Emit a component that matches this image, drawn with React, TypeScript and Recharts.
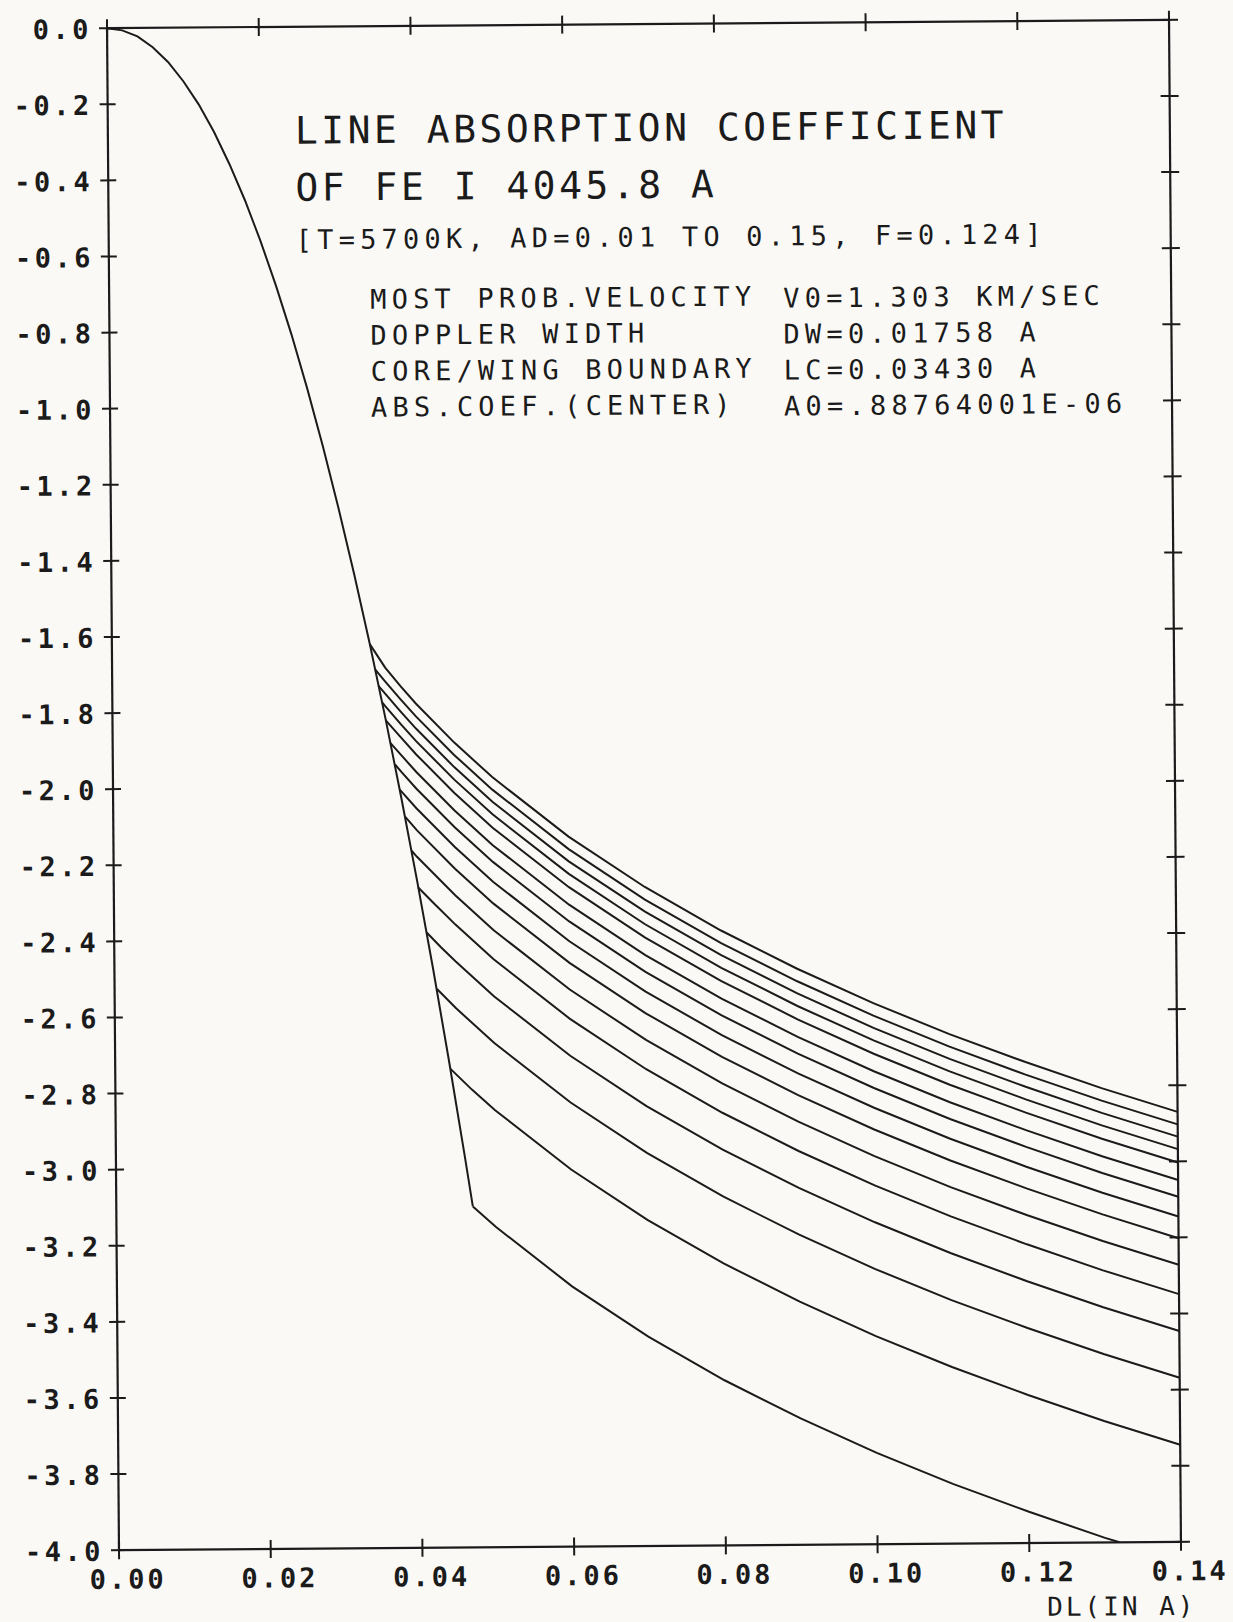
import React from 'react';
import { LineChart, Line, XAxis, YAxis } from 'recharts';

// ---- axis ticks ----
const X_TICKS = [0, 0.02, 0.04, 0.06, 0.08, 0.1, 0.12, 0.14];
const Y_TICKS = [0, -0.2, -0.4, -0.6, -0.8, -1.0, -1.2, -1.4, -1.6, -1.8, -2.0, -2.2, -2.4, -2.6, -2.8, -3.0, -3.2, -3.4, -3.6, -3.8, -4.0];
const X_LABEL = 'DL(IN A)';

// ---- texts ----
const TITLE_LINES = ['LINE ABSORPTION COEFFICIENT', 'OF FE I 4045.8 A'];
const PARAM_LINE = '[T=5700K, AD=0.01 TO 0.15, F=0.124]';
const INFO_NAMES = ['MOST PROB.VELOCITY', 'DOPPLER WIDTH', 'CORE/WING BOUNDARY', 'ABS.COEF.(CENTER)'];
const INFO_VALUES = ['V0=1.303 KM/SEC', 'DW=0.01758 A', 'LC=0.03430 A', 'A0=.88764001E-06'];

// ---- Doppler core (shared by all curves) ----
const coreX = [0, 0.002, 0.004, 0.006, 0.008, 0.01, 0.012, 0.014, 0.016, 0.018, 0.02, 0.022, 0.024, 0.026, 0.028, 0.03, 0.032, 0.034, 0.036, 0.038, 0.04, 0.042, 0.044, 0.046, 0.047];
const coreY = [0, -0.006, -0.022, -0.051, -0.09, -0.141, -0.202, -0.275, -0.36, -0.455, -0.562, -0.68, -0.809, -0.95, -1.102, -1.265, -1.439, -1.624, -1.821, -2.029, -2.248, -2.478, -2.72, -2.973, -3.104];

// ---- damping wings, AD = 0.15 ... 0.01 : [DL, log coefficient] ----
const wingAD15: [number, number][] = [[0.034, -1.624], [0.036, -1.686], [0.038, -1.735], [0.04, -1.781], [0.045, -1.884], [0.05, -1.976], [0.06, -2.134], [0.07, -2.268], [0.08, -2.384], [0.09, -2.486], [0.1, -2.578], [0.11, -2.661], [0.12, -2.736], [0.13, -2.806], [0.14, -2.87]];
const wingAD14: [number, number][] = [[0.0347, -1.691], [0.036, -1.723], [0.038, -1.77], [0.04, -1.815], [0.045, -1.917], [0.05, -2.009], [0.06, -2.167], [0.07, -2.301], [0.08, -2.417], [0.09, -2.519], [0.1, -2.611], [0.11, -2.694], [0.12, -2.769], [0.13, -2.839], [0.14, -2.903]];
const wingAD13: [number, number][] = [[0.0351, -1.734], [0.036, -1.755], [0.038, -1.802], [0.04, -1.847], [0.045, -1.949], [0.05, -2.041], [0.06, -2.199], [0.07, -2.333], [0.08, -2.449], [0.09, -2.551], [0.1, -2.643], [0.11, -2.726], [0.12, -2.801], [0.13, -2.871], [0.14, -2.935]];
const wingAD12: [number, number][] = [[0.0356, -1.778], [0.036, -1.788], [0.038, -1.835], [0.04, -1.88], [0.045, -1.982], [0.05, -2.074], [0.06, -2.232], [0.07, -2.366], [0.08, -2.482], [0.09, -2.584], [0.1, -2.676], [0.11, -2.759], [0.12, -2.834], [0.13, -2.904], [0.14, -2.968]];
const wingAD11: [number, number][] = [[0.036, -1.824], [0.038, -1.87], [0.04, -1.915], [0.045, -2.017], [0.05, -2.109], [0.06, -2.267], [0.07, -2.401], [0.08, -2.517], [0.09, -2.619], [0.1, -2.711], [0.11, -2.794], [0.12, -2.869], [0.13, -2.939], [0.14, -3.003]];
const wingAD10: [number, number][] = [[0.0366, -1.884], [0.038, -1.916], [0.04, -1.961], [0.045, -2.063], [0.05, -2.155], [0.06, -2.313], [0.07, -2.447], [0.08, -2.563], [0.09, -2.665], [0.1, -2.757], [0.11, -2.84], [0.12, -2.915], [0.13, -2.985], [0.14, -3.049]];
const wingAD09: [number, number][] = [[0.0372, -1.941], [0.038, -1.96], [0.04, -2.005], [0.045, -2.107], [0.05, -2.199], [0.06, -2.357], [0.07, -2.491], [0.08, -2.607], [0.09, -2.709], [0.1, -2.801], [0.11, -2.884], [0.12, -2.959], [0.13, -3.029], [0.14, -3.093]];
const wingAD08: [number, number][] = [[0.0378, -2.007], [0.04, -2.057], [0.045, -2.159], [0.05, -2.251], [0.06, -2.409], [0.07, -2.543], [0.08, -2.659], [0.09, -2.761], [0.1, -2.853], [0.11, -2.936], [0.12, -3.011], [0.13, -3.081], [0.14, -3.145]];
const wingAD07: [number, number][] = [[0.0385, -2.079], [0.04, -2.114], [0.045, -2.216], [0.05, -2.308], [0.06, -2.466], [0.07, -2.6], [0.08, -2.716], [0.09, -2.818], [0.1, -2.91], [0.11, -2.993], [0.12, -3.068], [0.13, -3.138], [0.14, -3.202]];
const wingAD06: [number, number][] = [[0.0393, -2.168], [0.04, -2.184], [0.045, -2.286], [0.05, -2.378], [0.06, -2.536], [0.07, -2.67], [0.08, -2.786], [0.09, -2.888], [0.1, -2.98], [0.11, -3.063], [0.12, -3.138], [0.13, -3.208], [0.14, -3.272]];
const wingAD05: [number, number][] = [[0.0401, -2.264], [0.042, -2.303], [0.045, -2.363], [0.05, -2.455], [0.06, -2.613], [0.07, -2.747], [0.08, -2.863], [0.09, -2.965], [0.1, -3.057], [0.11, -3.14], [0.12, -3.215], [0.13, -3.285], [0.14, -3.349]];
const wingAD04: [number, number][] = [[0.0412, -2.383], [0.043, -2.421], [0.045, -2.46], [0.05, -2.552], [0.06, -2.71], [0.07, -2.844], [0.08, -2.96], [0.09, -3.062], [0.1, -3.154], [0.11, -3.237], [0.12, -3.312], [0.13, -3.382], [0.14, -3.446]];
const wingAD03: [number, number][] = [[0.0425, -2.532], [0.045, -2.583], [0.05, -2.675], [0.06, -2.833], [0.07, -2.967], [0.08, -3.083], [0.09, -3.185], [0.1, -3.277], [0.11, -3.36], [0.12, -3.435], [0.13, -3.505], [0.14, -3.569]];
const wingAD02: [number, number][] = [[0.0442, -2.742], [0.047, -2.797], [0.05, -2.851], [0.06, -3.009], [0.07, -3.143], [0.08, -3.259], [0.09, -3.361], [0.1, -3.453], [0.11, -3.536], [0.12, -3.611], [0.13, -3.681], [0.14, -3.745]];
const wingAD01: [number, number][] = [[0.047, -3.104], [0.05, -3.158], [0.06, -3.316], [0.07, -3.45], [0.08, -3.566], [0.09, -3.668], [0.1, -3.76], [0.11, -3.843], [0.12, -3.918], [0.13, -3.988], [0.1319, -4.0]];

const WINGS = [wingAD15, wingAD14, wingAD13, wingAD12, wingAD11, wingAD10, wingAD09, wingAD08, wingAD07, wingAD06, wingAD05, wingAD04, wingAD03, wingAD02, wingAD01];

const coreData = coreX.map((x, i) => ({ x, y: coreY[i] }));
const wingData = WINGS.map((w) => w.map(([x, y]) => ({ x, y })));

const INK = '#1b1b1b';
const FONT = '"DejaVu Sans Mono", "Liberation Mono", monospace';

const fmtY = (v: number) => (Math.abs(v) < 1e-9 ? '0.0' : v.toFixed(1));
const fmtX = (v: number) => v.toFixed(2);

const BottomTick = (p: any) => {
  const { x, y, payload } = p;
  return (
    <g>
      <line x1={x} x2={x} y1={y - 9} y2={y + 9} stroke={INK} strokeWidth={2} />
      <text x={x + 9} y={y + 29} textAnchor="middle" dominantBaseline="central" fontFamily={FONT} fontWeight="bold" fontSize={27} letterSpacing={3} fill={INK}>
        {fmtX(payload.value)}
      </text>
    </g>
  );
};

const TopTick = (p: any) => {
  const { x, y } = p;
  return <line x1={x} x2={x} y1={y - 9} y2={y + 9} stroke={INK} strokeWidth={2} />;
};

const LeftTick = (p: any) => {
  const { x, y, payload } = p;
  return (
    <g>
      <line x1={x - 8} x2={x + 8} y1={y} y2={y} stroke={INK} strokeWidth={2} />
      <text x={x - 15} y={y + 1} textAnchor="end" dominantBaseline="central" fontFamily={FONT} fontWeight="bold" fontSize={27} letterSpacing={3.5} fill={INK}>
        {fmtY(payload.value)}
      </text>
    </g>
  );
};

const RightTick = (p: any) => {
  const { x, y } = p;
  return <line x1={x - 9} x2={x + 9} y1={y} y2={y} stroke={INK} strokeWidth={2} />;
};

export default function App() {
  return (
    <div style={{ width: 1233, height: 1622, background: '#faf9f6', overflow: 'hidden' }}>
      <style>{'body{margin:0;}'}</style>
      <div style={{ position: 'relative', width: 1233, height: 1622, transform: 'rotate(-0.45deg)', transformOrigin: '644px 785px' }}>
        <LineChart width={1233} height={1622} margin={{ top: 14, right: 38, bottom: 16, left: 13 }}>
          <XAxis xAxisId="b" type="number" dataKey="x" domain={[0, 0.14]} ticks={X_TICKS} interval={0} height={60}
            tickSize={0} tickMargin={0} tick={<BottomTick />} tickLine={false} axisLine={{ stroke: INK, strokeWidth: 2.2 }} allowDataOverflow />
          <XAxis xAxisId="t" orientation="top" type="number" dataKey="x" domain={[0, 0.14]} ticks={X_TICKS} interval={0} height={10}
            tickSize={0} tickMargin={0} tick={<TopTick />} tickLine={false} axisLine={{ stroke: INK, strokeWidth: 2.2 }} allowDataOverflow />
          <YAxis yAxisId="l" type="number" domain={[-4, 0]} ticks={Y_TICKS} interval={0} width={100}
            tickSize={0} tickMargin={0} tick={<LeftTick />} tickLine={false} axisLine={{ stroke: INK, strokeWidth: 2.2 }} allowDataOverflow />
          <YAxis yAxisId="r" orientation="right" type="number" domain={[-4, 0]} ticks={Y_TICKS} interval={0} width={20}
            tickSize={0} tickMargin={0} tick={<RightTick />} tickLine={false} axisLine={{ stroke: INK, strokeWidth: 2.2 }} allowDataOverflow />
          <Line xAxisId="b" yAxisId="l" data={coreData} dataKey="y" type="linear" stroke={INK} strokeWidth={2} dot={false} isAnimationActive={false} />
          {wingData.map((d, i) => (
            <Line key={i} xAxisId="b" yAxisId="l" data={d} dataKey="y" type="linear" stroke={INK} strokeWidth={2} dot={false} isAnimationActive={false} />
          ))}
          <Line xAxisId="t" yAxisId="r" data={coreData} dataKey="y" type="linear" stroke="none" dot={false} isAnimationActive={false} />
        </LineChart>
        <svg width={1233} height={1622} style={{ position: 'absolute', left: 0, top: 0, pointerEvents: 'none' }}>
          {TITLE_LINES.map((t, i) => (
            <text key={t} x={300} y={128 + i * 57} dominantBaseline="central" fontFamily={FONT} fontSize={38} letterSpacing={3.5} fill={INK}>{t}</text>
          ))}
          <text x={300} y={237} dominantBaseline="central" fontFamily={FONT} fontSize={27} letterSpacing={5.2} fill={INK}>{PARAM_LINE}</text>
          {INFO_NAMES.map((t, i) => (
            <text key={t} x={374} y={297 + i * 36} dominantBaseline="central" fontFamily={FONT} fontSize={27} letterSpacing={5.2} fill={INK}>{t}</text>
          ))}
          {INFO_VALUES.map((t, i) => (
            <text key={t} x={787} y={299 + i * 36} dominantBaseline="central" fontFamily={FONT} fontSize={27} letterSpacing={5.2} fill={INK}>{t}</text>
          ))}
          <text x={1190} y={1610} textAnchor="end" dominantBaseline="central" fontFamily={FONT} fontSize={26} letterSpacing={3} fill={INK}>{X_LABEL}</text>
        </svg>
      </div>
    </div>
  );
}
